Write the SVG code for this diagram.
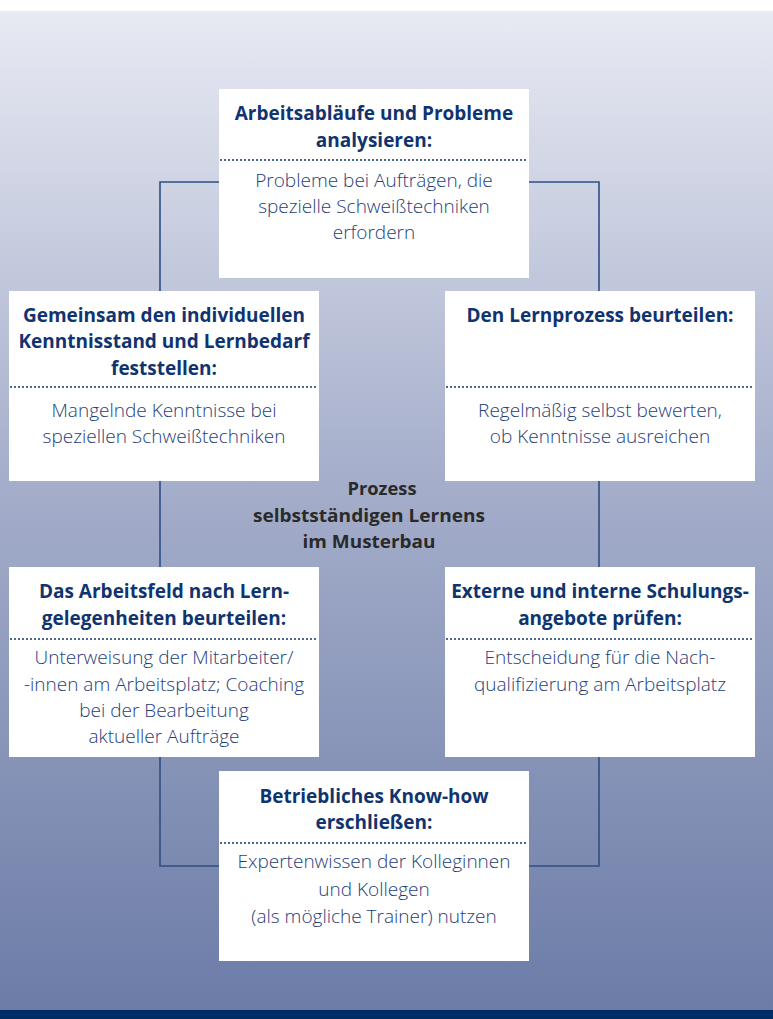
<svg xmlns="http://www.w3.org/2000/svg" width="773" height="1019" viewBox="0 0 773 1019">
<defs>
<linearGradient id="bg" x1="0" y1="0" x2="0" y2="1">
<stop offset="0" stop-color="#e8eaf3"/>
<stop offset="0.45" stop-color="#a7b0cc"/>
<stop offset="1" stop-color="#6c7ca7"/>
</linearGradient>
<style>
.box{fill:#ffffff}
.dot{stroke:#0f3470;stroke-width:2;stroke-dasharray:0 4;stroke-linecap:round;fill:none}
.conn{stroke:#2e4f85;stroke-width:1.6;fill:none}
.t{font-family:"Open Sans","Noto Sans","Liberation Sans",sans-serif;font-weight:700;font-size:19px;fill:#0f3470;text-anchor:middle}
.b{font-family:"Open Sans","Noto Sans","Liberation Sans",sans-serif;font-weight:350;font-size:19px;fill:#1f4079;text-anchor:middle}
.c{font-family:"Open Sans","Noto Sans","Liberation Sans",sans-serif;font-weight:700;font-size:18px;fill:#2a2a2a;text-anchor:middle}
</style>
</defs>
<rect x="0" y="0" width="773" height="1019" fill="#ffffff"/>
<rect x="0" y="11" width="773" height="999" fill="url(#bg)"/>
<rect x="0" y="1010" width="773" height="9" fill="#002c66"/>
<g id="connectors">
<path class="conn" d="M219,182 H160 V866 H219"/>
<path class="conn" d="M529,182 H599 V866 H529"/>
</g>
<g id="node-top">
<rect class="box" x="219" y="89" width="310" height="189"/>
<text class="t" x="374" y="120">Arbeitsabläufe und Probleme</text>
<text class="t" x="374" y="147">analysieren:</text>
<line class="dot" x1="221" y1="160" x2="529" y2="160"/>
<text class="b" x="374" y="187">Probleme bei Aufträgen, die</text>
<text class="b" x="374" y="213">spezielle Schweißtechniken</text>
<text class="b" x="374" y="239">erfordern</text>
</g>
<g id="node-left-mid">
<rect class="box" x="9" y="291" width="310" height="190"/>
<text class="t" x="164" y="322">Gemeinsam den individuellen</text>
<text class="t" x="164" y="348">Kenntnisstand und Lernbedarf</text>
<text class="t" x="164" y="375">feststellen:</text>
<line class="dot" x1="11" y1="387" x2="319" y2="387"/>
<text class="b" x="164" y="417">Mangelnde Kenntnisse bei</text>
<text class="b" x="164" y="443">speziellen Schweißtechniken</text>
</g>
<g id="node-right-mid">
<rect class="box" x="445" y="291" width="310" height="190"/>
<text class="t" x="600" y="322">Den Lernprozess beurteilen:</text>
<line class="dot" x1="447" y1="387" x2="755" y2="387"/>
<text class="b" x="600" y="417">Regelmäßig selbst bewerten,</text>
<text class="b" x="600" y="443">ob Kenntnisse ausreichen</text>
</g>
<g id="node-center">
<text class="c" x="382" y="495" textLength="69" lengthAdjust="spacingAndGlyphs">Prozess</text>
<text class="c" x="369" y="522" textLength="232" lengthAdjust="spacingAndGlyphs">selbstständigen Lernens</text>
<text class="c" x="369" y="548" textLength="133" lengthAdjust="spacingAndGlyphs">im Musterbau</text>
</g>
<g id="node-left-low">
<rect class="box" x="9" y="567" width="310" height="190"/>
<text class="t" x="164" y="598">Das Arbeitsfeld nach Lern-</text>
<text class="t" x="164" y="625">gelegenheiten beurteilen:</text>
<line class="dot" x1="11" y1="639" x2="319" y2="639"/>
<text class="b" x="164" y="664">Unterweisung der Mitarbeiter/</text>
<text class="b" x="164" y="691">-innen am Arbeitsplatz; Coaching</text>
<text class="b" x="164" y="717">bei der Bearbeitung</text>
<text class="b" x="164" y="743">aktueller Aufträge</text>
</g>
<g id="node-right-low">
<rect class="box" x="445" y="567" width="310" height="190"/>
<text class="t" x="600" y="598">Externe und interne Schulungs-</text>
<text class="t" x="600" y="625">angebote prüfen:</text>
<line class="dot" x1="447" y1="639" x2="755" y2="639"/>
<text class="b" x="600" y="664">Entscheidung für die Nach-</text>
<text class="b" x="600" y="691">qualifizierung am Arbeitsplatz</text>
</g>
<g id="node-bottom">
<rect class="box" x="219" y="771" width="310" height="190"/>
<text class="t" x="374" y="803">Betriebliches Know-how</text>
<text class="t" x="374" y="829">erschließen:</text>
<line class="dot" x1="221" y1="843" x2="529" y2="843"/>
<text class="b" x="374" y="868">Expertenwissen der Kolleginnen</text>
<text class="b" x="374" y="896">und Kollegen</text>
<text class="b" x="374" y="923">(als mögliche Trainer) nutzen</text>
</g>
</svg>
